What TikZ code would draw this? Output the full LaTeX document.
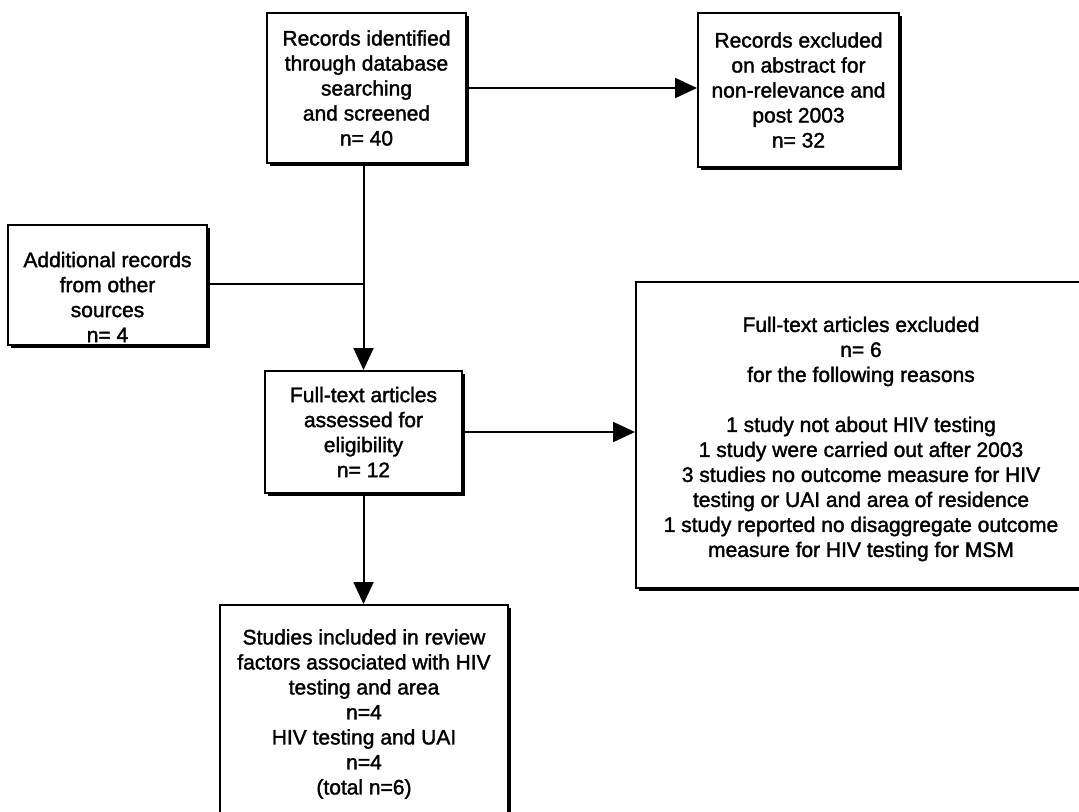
\documentclass[tikz,border=0pt]{standalone}
\usepackage{fontspec}
\setmainfont{Liberation Sans}
\newfontfamily\boxfont{Liberation Sans}[FakeBold=1.6]
\usetikzlibrary{arrows.meta,shadows,fit,calc}

\begin{document}
\begin{tikzpicture}[x=0.5pt,y=-0.5pt,
  box/.style={draw=black, line width=1pt, fill=white, inner sep=0pt,
    drop shadow={shadow xshift=1.7pt, shadow yshift=-1.7pt, fill=black, opacity=1}},
  txt/.style={align=center, font=\boxfont\fontsize{10.5pt}{12.5pt}\selectfont, inner sep=0pt},
  link/.style={line width=1pt, draw=black},
  arr/.style={link, -{Triangle[length=11pt,width=10pt]}}
]
\path[use as bounding box] (0,0) rectangle (1079,811);
\fill[white] (0,0) rectangle (1079,811);
\begin{scope}
\clip (0,0) rectangle (1079,811);

% boxes
\node[box, fit={(267,13) (466,163)}] (b1) {};
\node[txt] (t1) at (b1.center) {Records identified\\through database\\searching\\and screened\\n= 40};

\node[box, fit={(698,13) (899,167)}] (b2) {};
\node[txt] (t2) at (b2.center) {Records excluded\\on abstract for\\non-relevance and\\post 2003\\n= 32};

\node[box, fit={(8,225) (207,345)}] (b3) {};
\node[txt] (t3) at (107.5,297) {Additional records\\from other\\sources\\n= 4};

\node[box, fit={(265,371) (462,493)}] (b4) {};
\node[txt] (t4) at (b4.center) {Full-text articles\\assessed for\\eligibility\\n= 12};

\node[box, fit={(636,282) (1086,588)}] (b5) {};
\node[txt] (t5) at (861,439) {Full-text articles excluded\\n= 6\\for the following reasons\\[12.5pt]
  1 study not about HIV testing\\1 study were carried out after 2003\\3 studies no outcome measure for HIV\\testing or UAI and area of residence\\1 study reported no disaggregate outcome\\measure for HIV testing for MSM};

\node[box, fit={(220,605) (508,823)}] (b6) {};
\node[txt] (t6) at (364,714) {Studies included in review\\factors associated with HIV\\testing and area\\n=4\\HIV testing and UAI\\n=4\\(total n=6)};

% connectors
\coordinate (j) at (363.5,284);
\draw[arr] (b1.east) -- (b2.west |- b1.east);
\draw[arr] (b1.south -| b4.north) -- (b4.north);
\draw[link] (b3.east |- j) -- (j);
\draw[arr] (b4.east) -- (b5.west |- b4.east);
\draw[arr] (b4.south) -- (b6.north -| b4.south);
\end{scope}
\end{tikzpicture}
\end{document}
